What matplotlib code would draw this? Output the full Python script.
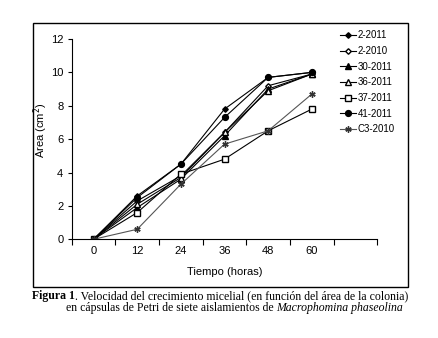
import matplotlib.pyplot as plt
from matplotlib.patches import Rectangle
from matplotlib import font_manager

horas = ['0', '12', '24', '36', '48', '60']

a_2_2011 = [0, 2.6, 4.5, 7.8, 9.7, 10.0]
a_2_2010 = [0, 2.3, 3.8, 6.4, 9.2, 9.9]
a_30_2011 = [0, 1.9, 3.6, 6.2, 9.0, 9.9]
a_36_2011 = [0, 2.1, 3.7, 6.4, 8.9, 9.9]
a_37_2011 = [0, 1.6, 3.9, 4.8, 6.5, 7.8]
a_41_2011 = [0, 2.5, 4.5, 7.3, 9.7, 10.0]
a_c3_2010 = [0, 0.6, 3.3, 5.7, 6.5, 8.7]

names = [f.name for f in font_manager.fontManager.ttflist]
sans = 'Liberation Sans Narrow' if 'Liberation Sans Narrow' in names else 'Liberation Sans'
plt.rcParams['font.family'] = [sans, 'DejaVu Sans']

fig = plt.figure(figsize=(4.38, 3.38), dpi=100)
W, H = 438, 338
ax = fig.add_axes([71.7 / W, 1 - 239.3 / H, (377.3 - 71.7) / W, (239.3 - 39) / H])

x = list(range(len(horas)))
lw = 0.8
ax.plot(x, a_2_2011, color='black', lw=lw, marker='D', ms=2.8, mfc='black', label='2-2011')
ax.plot(x, a_2_2010, color='black', lw=lw, marker='D', ms=2.8, mfc='white', label='2-2010')
ax.plot(x, a_30_2011, color='black', lw=lw, marker='^', ms=4, mfc='black', label='30-2011')
ax.plot(x, a_36_2011, color='black', lw=lw, marker='^', ms=4, mfc='white', label='36-2011')
ax.plot(x, a_37_2011, color='black', lw=lw, marker='s', ms=4.5, mfc='white', label='37-2011')
ax.plot(x, a_41_2011, color='black', lw=lw, marker='o', ms=4.2, mfc='black', label='41-2011')
ax.plot(x, a_c3_2010, color='#555555', lw=lw, marker=(6, 2, 0), ms=4.5, mec='#333333', label='C3-2010')

ax.set_xlim(-0.5, 6.5)
ax.set_ylim(0, 12)
ax.set_yticks(range(0, 13, 2))
ax.set_xticks([i - 0.5 for i in range(8)])
ax.set_xticklabels([])
ax.set_xticks(x, minor=True)
ax.set_xticklabels(horas, minor=True)
ax.tick_params(axis='x', which='major', length=4, width=0.8, direction='out')
ax.tick_params(axis='x', which='minor', length=0, pad=5, labelsize=8)
ax.tick_params(axis='y', length=3, width=0.8, labelsize=8, pad=3)
for s in ['top', 'right']:
    ax.spines[s].set_visible(False)
for s in ['left', 'bottom']:
    ax.spines[s].set_linewidth(0.8)

ax.set_xlabel('Tiempo (horas)', fontsize=8, labelpad=8)
fig.text(40.5 / W, 1 - 130 / H, 'Area (cm$^2$)', rotation=90, fontsize=8,
         ha='center', va='center')

ax.legend(loc='upper left', bbox_to_anchor=(340 / W, 1 - 30.5 / H),
          bbox_transform=fig.transFigure, frameon=False, fontsize=7,
          handlelength=1.6, handletextpad=0.2, labelspacing=0.58,
          borderpad=0, borderaxespad=0)

fig.patches.append(Rectangle((33 / W, 1 - 287 / H), 375 / W, 264 / H,
                             transform=fig.transFigure, fill=False,
                             lw=1, ec='black'))

# caption with mixed styles
fig.canvas.draw()
r = fig.canvas.get_renderer()
serif = ['Liberation Serif', 'DejaVu Serif']

def put(parts, x0, y0):
    xx = x0
    for txt, kw in parts:
        t = fig.text(xx / W, 1 - y0 / H, txt, fontsize=8.5, family=serif,
                     va='center', ha='left', **kw)
        xx += t.get_window_extent(r).width

put([('Figura 1', dict(weight='bold')),
     ('. Velocidad del crecimiento micelial (en función del área de la colonia)', {})],
    32, 296)
put([('en cápsulas de Petri de siete aislamientos de ', {}),
     ('Macrophomina phaseolina', dict(style='italic'))],
    66, 307.5)

fig.savefig('out.png', dpi=100)
